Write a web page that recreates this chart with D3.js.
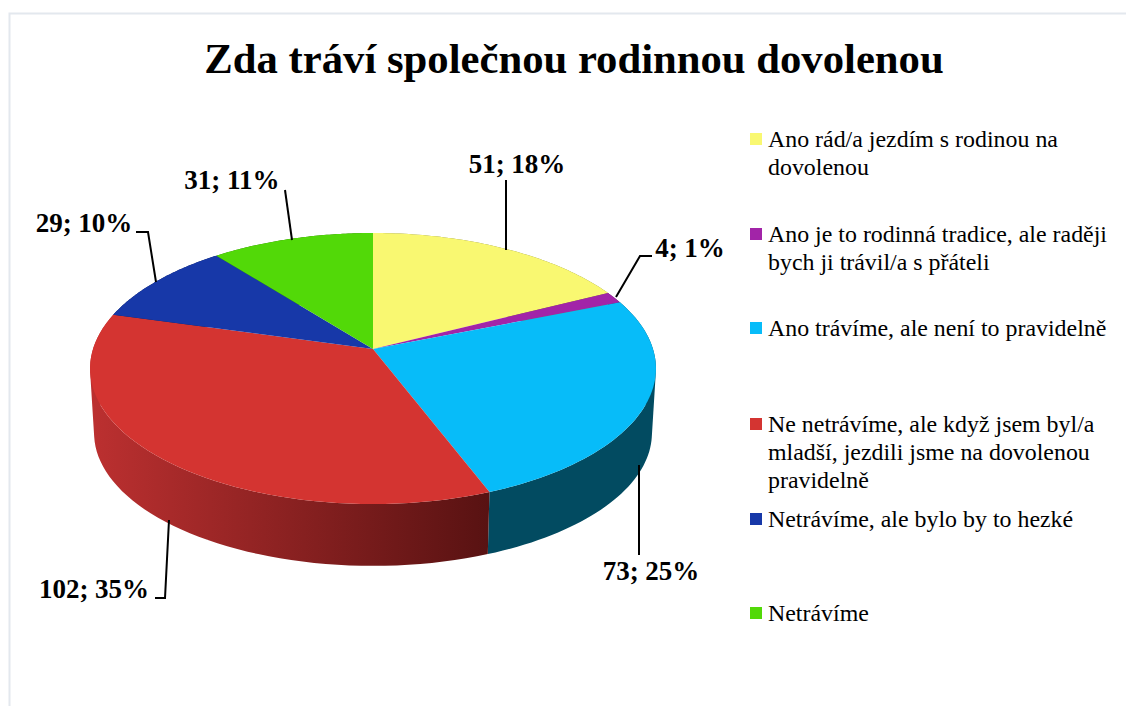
<!DOCTYPE html>
<meta charset="utf-8">
<script src="https://d3js.org/d3.v7.min.js"></script>
<style>
  html, body { margin: 0; background: #fff; }
  svg { display: block; }
  text { font-family: "Liberation Serif", serif; fill: #000; }
</style>
<body>
<svg id="chart" width="1126" height="706"></svg>
<script>
  // data
  var categories = [
    ["Ano rád/a jezdím s rodinou na", "dovolenou"],
    ["Ano je to rodinná tradice, ale raději", "bych ji trávil/a s přáteli"],
    ["Ano trávíme, ale není to pravidelně"],
    ["Ne netrávíme, ale když jsem byl/a", "mladší, jezdili jsme na dovolenou", "pravidelně"],
    ["Netrávíme, ale bylo by to hezké"],
    ["Netrávíme"]
  ];
  var values = [51, 4, 73, 102, 29, 31];
  var percents = [18, 1, 25, 35, 10, 11];
  var colors = ["#f9f871", "#a224a8", "#07bcf9", "#d43431", "#1738a8", "#52d908"];
  var sideColors = ["#7c7c38", "#511254", "#024b61", "url(#redSide)", "#0b1c54", "#296c04"];

  // where each label box and its leader line go
  var labelPos = [
    {x: 517, y: 173, line: [[506, 180], [506, 250]]},
    {x: 690, y: 257, line: [[652, 256], [640, 256], [616, 297]]},
    {x: 651, y: 580, line: [[639, 555], [639, 465]]},
    {x: 94, y: 598, line: [[155, 598], [165, 598], [169, 520]]},
    {x: 84, y: 232, line: [[136, 232], [148, 232], [156, 282]]},
    {x: 232, y: 189, line: [[285, 190], [292, 240]]}
  ];
  var legendY = [139, 234, 328, 424, 519, 613];

  var svg = d3.select("#chart");

  // thin frame of the chart area
  svg.append("path")
    .attr("d", "M9.5,706V13.5H1126")
    .attr("fill", "none")
    .attr("stroke", "#e3e8ee")
    .attr("stroke-width", 2);

  svg.append("text")
    .attr("x", 574).attr("y", 73)
    .attr("text-anchor", "middle")
    .style("font-size", "42.7px")
    .style("font-weight", "bold")
    .text("Zda tráví společnou rodinnou dovolenou");

  var grad = svg.append("defs").append("linearGradient")
    .attr("id", "redSide")
    .attr("gradientUnits", "userSpaceOnUse")
    .attr("x1", 91).attr("x2", 489).attr("y1", 0).attr("y2", 0);
  grad.append("stop").attr("offset", 0).attr("stop-color", "#bc3030");
  grad.append("stop").attr("offset", 1).attr("stop-color", "#581212");

  // perspective tilt: the near half of the disc is drawn bigger than the far half
  var k = 0.144;
  function project(angle, rx, ry, cy) {
    var u = Math.sin(angle), v = -Math.cos(angle);
    var w = 1 / (1 - k * v);
    return [373 + rx * u * w, cy + ry * v * w];
  }
  function topRim(a) { return project(a, 280, 132.7, 349); }
  function bottomRim(a) { return project(a, 276, 130, 414); }

  function arcPoints(rim, a0, a1) {
    return d3.range(0, 61).map(function(i) {
      return rim(a0 + (a1 - a0) * i / 60);
    });
  }

  var slices = d3.pie().sort(null)(values);
  var line = d3.line();

  // wall is one quad per rim step, all turned the same way so the fill does not cancel
  function wallPath(d) {
    var top = arcPoints(topRim, d.startAngle, d.endAngle);
    var bottom = arcPoints(bottomRim, d.startAngle, d.endAngle);
    var out = "";
    for (var i = 0; i < 60; i++) {
      var quad = [top[i], top[i + 1], bottom[i + 1], bottom[i]];
      if (d3.polygonArea(quad) < 0) quad.reverse();
      out += line(quad) + "Z";
    }
    return out;
  }

  // side walls first, the top faces cover whatever is behind them
  svg.append("g").selectAll("path")
    .data(slices)
    .enter().append("path")
    .attr("fill", function(d, i) { return sideColors[i]; })
    .attr("d", wallPath);

  svg.append("g").selectAll("path")
    .data(slices)
    .enter().append("path")
    .attr("fill", function(d, i) { return colors[i]; })
    .attr("d", function(d) {
      var pts = [[373, 349]].concat(arcPoints(topRim, d.startAngle, d.endAngle));
      return line(pts) + "Z";
    });

  // leader lines
  svg.append("g").selectAll("path")
    .data(labelPos)
    .enter().append("path")
    .attr("fill", "none")
    .attr("stroke", "#000")
    .attr("stroke-width", 2)
    .attr("d", function(d) { return line(d.line); });

  svg.append("g").selectAll("text")
    .data(values)
    .enter().append("text")
    .attr("x", function(d, i) { return labelPos[i].x; })
    .attr("y", function(d, i) { return labelPos[i].y; })
    .attr("text-anchor", "middle")
    .style("font-size", "27px")
    .style("font-weight", "bold")
    .text(function(d, i) { return d + "; " + percents[i] + "%"; });

  // legend
  var legend = svg.append("g").selectAll("g")
    .data(categories)
    .enter().append("g");

  legend.append("rect")
    .attr("x", 750)
    .attr("y", function(d, i) { return legendY[i] - 6; })
    .attr("width", 12).attr("height", 12)
    .attr("fill", function(d, i) { return colors[i]; });

  legend.each(function(d, i) {
    d3.select(this).selectAll("text")
      .data(d)
      .enter().append("text")
      .attr("x", 768)
      .attr("y", function(t, j) { return legendY[i] + 7.5 + j * 28; })
      .style("font-size", "23.9px")
      .text(function(t) { return t; });
  });
</script>
</body>
